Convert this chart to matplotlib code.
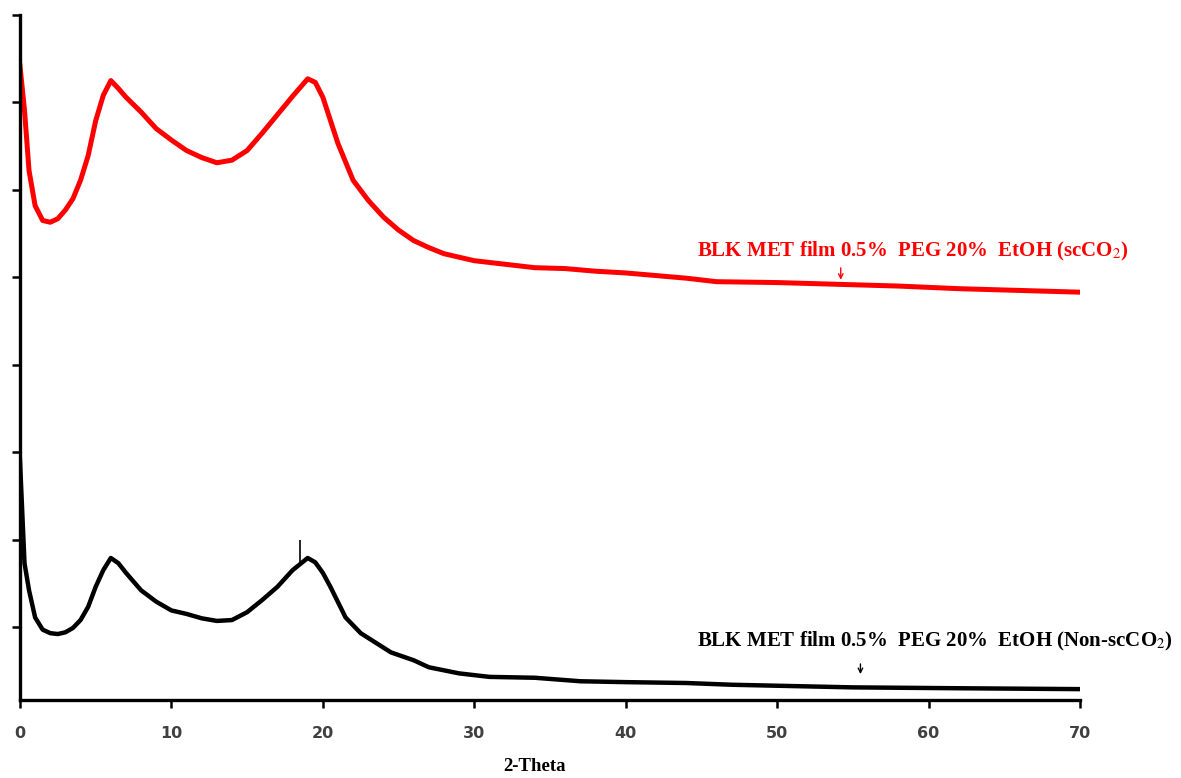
import matplotlib.pyplot as plt

# 字体设置：刻度用无衬线粗体，标注用衬线粗体
plt.rcParams["font.family"] = ["DejaVu Sans"]
plt.rcParams["mathtext.fontset"] = "stix"

# 数据（从图中读取，y 为任意强度单位）
theta_sc = [0, 0.3, 0.6, 1.0, 1.5, 2.0, 2.5, 3.0, 3.5, 4.0, 4.5, 5.0, 5.5, 6.0, 6.5,
            7, 8, 9, 10, 11, 12, 13, 14, 15, 16, 17, 18, 19, 19.5, 20, 21, 22, 23,
            24, 25, 26, 27, 28, 29, 30, 32, 34, 36, 38, 40, 42, 44, 46, 50, 54, 58,
            62, 66, 70]
inten_sc = [6.42, 5.91, 5.22, 4.82, 4.65, 4.63, 4.67, 4.77, 4.90, 5.11, 5.39, 5.79,
            6.08, 6.25, 6.16, 6.06, 5.89, 5.70, 5.57, 5.45, 5.37, 5.31, 5.34, 5.45,
            5.65, 5.86, 6.07, 6.27, 6.23, 6.06, 5.53, 5.11, 4.88, 4.69, 4.54, 4.42,
            4.34, 4.27, 4.23, 4.19, 4.15, 4.11, 4.10, 4.07, 4.05, 4.02, 3.99, 3.95,
            3.94, 3.92, 3.90, 3.87, 3.85, 3.83]

theta_non = [0, 0.3, 0.6, 1.0, 1.5, 2.0, 2.5, 3.0, 3.5, 4.0, 4.5, 5.0, 5.5, 6.0, 6.5,
             7, 8, 9, 10, 11, 12, 13, 14, 15, 16, 17, 18, 19,
             19.5, 20, 20.5, 21.5, 22.5, 23.5, 24.5, 26, 27, 29, 31, 34, 37, 40, 44,
             47, 55, 62, 70]
inten_non = [1.91, 0.73, 0.42, 0.11, -0.03, -0.07, -0.08, -0.06, -0.01, 0.08, 0.23,
             0.46, 0.65, 0.79, 0.73, 0.62, 0.42, 0.29, 0.19, 0.15, 0.10, 0.07, 0.08,
             0.17, 0.31, 0.46, 0.65, 0.79, 0.74, 0.62, 0.46, 0.11,
             -0.07, -0.18, -0.29, -0.38, -0.46, -0.53, -0.57, -0.58, -0.62, -0.63,
             -0.64, -0.66, -0.69, -0.70, -0.71]
# 黑线上 18.5° 处的尖峰
spike_theta = 18.5
spike_low, spike_high = 0.70, 0.99

label_sc = r"BLK MET film 0.5%  PEG 20%  EtOH (scCO$_2$)"
label_non = r"BLK MET film 0.5%  PEG 20%  EtOH (Non-scCO$_2$)"
x_ticks = [0, 10, 20, 30, 40, 50, 60, 70]
y_ticks = [0, 1, 2, 3, 4, 5, 6, 7]

fig = plt.figure(figsize=(11.81, 7.78), dpi=100)
ax = fig.add_axes([0.0169, 0.1003, 0.8976, 0.8804])

ax.plot(theta_sc, inten_sc, color="#ff0000", lw=3.6)
ax.plot(theta_non, inten_non, color="black", lw=3.2)
ax.vlines(spike_theta, spike_low, spike_high, color="black", lw=1.2)

# 坐标轴
ax.set_xlim(0, 70)
ax.set_ylim(-0.834, 7.0)
ax.set_xticks(x_ticks)
ax.set_yticks(y_ticks)
ax.set_yticklabels([])
for side in ["top", "right"]:
    ax.spines[side].set_visible(False)
for side in ["left", "bottom"]:
    ax.spines[side].set_linewidth(2.4)
ax.tick_params(axis="both", direction="out", length=6, width=1.8)
ax.tick_params(axis="x", pad=13, labelsize=11.5, labelcolor="#404040")
for lab in ax.get_xticklabels():
    lab.set_fontweight("bold")

ax.set_xlabel("2-Theta", fontsize=13.5, fontweight="bold",
              family="Liberation Serif")
ax.xaxis.set_label_coords(0.485, -0.085)

# 标注
ax.text(44.7, 4.30, label_sc, color="#ff0000", fontsize=15, fontweight="bold",
        family="Liberation Serif", ha="left", va="center")
ax.annotate("", xy=(54.2, 3.94), xytext=(54.2, 4.14),
            arrowprops=dict(arrowstyle="->", color="#ff0000", lw=1.0,
                            mutation_scale=8))
ax.text(44.7, -0.17, label_non, color="black", fontsize=15, fontweight="bold",
        family="Liberation Serif", ha="left", va="center")
ax.annotate("", xy=(55.5, -0.57), xytext=(55.5, -0.39),
            arrowprops=dict(arrowstyle="->", color="black", lw=1.0,
                            mutation_scale=8))

fig.savefig("out.png", dpi=100)
